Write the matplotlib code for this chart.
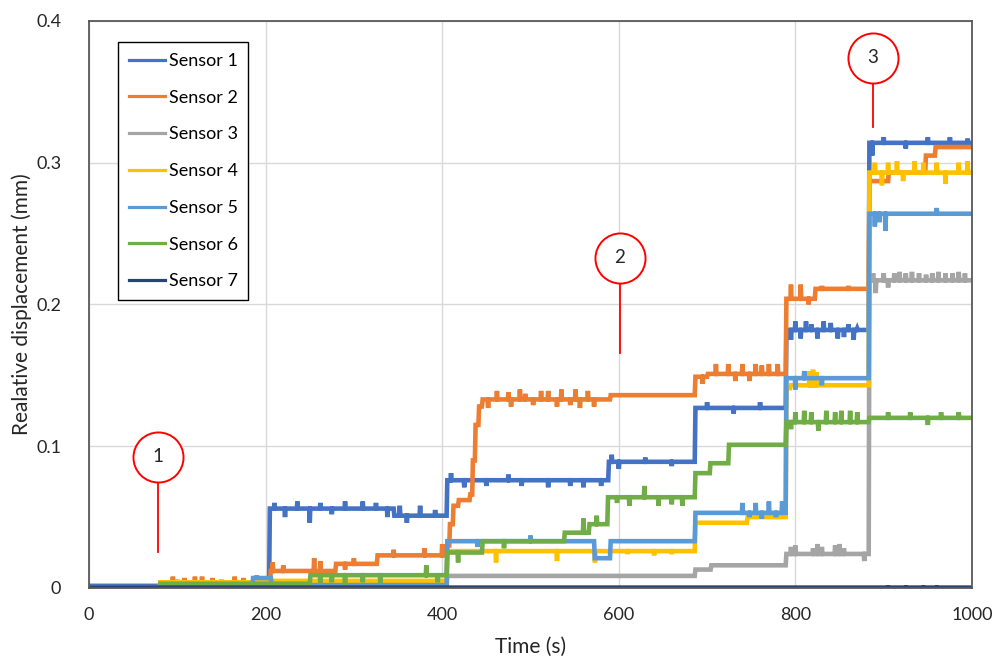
import matplotlib.pyplot as plt

plt.rcParams['font.family'] = ['Lato', 'DejaVu Sans']

labels = ['Sensor 1', 'Sensor 2', 'Sensor 3', 'Sensor 4', 'Sensor 5', 'Sensor 6', 'Sensor 7']
colors = ['#4472C4', '#ED7D31', '#A5A5A5', '#FFC000', '#5B9BD5', '#70AD47', '#264478']

# level changes (time s, displacement mm)
s1_steps = [(0, 0.0015), (204, 0.056), (345, 0.051), (405, 0.076), (588, 0.089), (686, 0.127),
            (789, 0.182), (883, 0.314)]
s1_spikes = [(210, 0.060), (222, 0.050), (236, 0.061), (250, 0.046), (262, 0.060), (275, 0.052),
             (290, 0.061), (310, 0.061), (325, 0.060), (338, 0.050), (352, 0.058), (360, 0.046),
             (375, 0.058), (392, 0.055), (410, 0.081), (425, 0.071), (450, 0.072), (475, 0.080),
             (490, 0.072), (520, 0.071), (545, 0.072), (560, 0.071), (580, 0.072), (592, 0.094),
             (600, 0.084), (630, 0.092), (660, 0.086), (700, 0.131), (730, 0.123), (760, 0.131),
             (795, 0.175), (800, 0.188), (806, 0.176), (812, 0.188), (818, 0.186), (825, 0.176),
             (832, 0.188), (840, 0.187), (848, 0.176), (855, 0.177), (860, 0.186), (866, 0.175),
             (870, 0.183), (887, 0.305), (900, 0.318), (925, 0.310), (950, 0.318), (975, 0.318),
             (995, 0.317)]

s2_steps = [(0, 0.0005), (80, 0.004), (205, 0.012), (279, 0.017), (326, 0.023), (405, 0.030),
            (408, 0.045), (412, 0.058), (418, 0.062), (431, 0.066), (434, 0.090), (437, 0.115),
            (441, 0.128), (445, 0.133), (590, 0.136), (686, 0.149), (700, 0.151), (789, 0.204),
            (822, 0.211), (883, 0.287), (905, 0.293), (947, 0.305), (958, 0.311)]
s2_spikes = [(95, 0.008), (108, 0.007), (120, 0.008), (128, 0.008), (140, 0.007), (165, 0.008),
             (175, 0.007), (190, 0.009), (208, 0.018), (220, 0.016), (255, 0.021), (262, 0.019),
             (290, 0.013), (300, 0.021), (345, 0.027), (380, 0.028), (400, 0.031), (452, 0.127),
             (462, 0.139), (475, 0.138), (478, 0.128), (488, 0.140), (494, 0.137), (503, 0.129),
             (512, 0.139), (520, 0.139), (530, 0.128), (535, 0.140), (545, 0.129), (551, 0.140),
             (556, 0.127), (565, 0.139), (572, 0.128), (695, 0.144), (710, 0.158), (724, 0.158),
             (732, 0.146), (740, 0.158), (748, 0.146), (755, 0.158), (762, 0.157), (770, 0.158),
             (780, 0.158), (795, 0.214), (806, 0.214), (815, 0.200), (830, 0.213), (860, 0.213)]

s3_steps = [(0, 0.0005), (405, 0.0085), (686, 0.013), (704, 0.016), (789, 0.024), (883, 0.217)]
s3_spikes = [(795, 0.029), (800, 0.030), (820, 0.028), (825, 0.031), (830, 0.029), (845, 0.030),
             (850, 0.031), (855, 0.028), (878, 0.019), (888, 0.222), (891, 0.208), (900, 0.222),
             (905, 0.212), (912, 0.222), (918, 0.223), (925, 0.222), (932, 0.223), (940, 0.222),
             (948, 0.221), (955, 0.222), (962, 0.223), (970, 0.222), (978, 0.222), (985, 0.223),
             (992, 0.222)]

s4_steps = [(0, 0.0), (80, 0.004), (205, 0.005), (405, 0.026), (686, 0.046), (745, 0.050),
            (789, 0.141), (794, 0.143), (883, 0.293)]
s4_spikes = [(100, 0.006), (150, 0.006), (461, 0.018), (530, 0.019), (573, 0.018), (610, 0.024),
             (640, 0.023), (660, 0.024), (816, 0.153), (820, 0.154), (824, 0.152), (890, 0.300),
             (898, 0.284), (905, 0.300), (915, 0.301), (922, 0.287), (935, 0.301), (945, 0.300),
             (960, 0.300), (970, 0.285), (985, 0.300), (995, 0.301)]

s5_steps = [(0, 0.0), (185, 0.007), (206, 0.002), (405, 0.033), (572, 0.021), (590, 0.033),
            (686, 0.053), (789, 0.148), (883, 0.264)]
s5_spikes = [(440, 0.029), (500, 0.037), (740, 0.060), (748, 0.050), (755, 0.060), (762, 0.049),
             (770, 0.061), (778, 0.050), (785, 0.061), (800, 0.140), (810, 0.153), (830, 0.143),
             (890, 0.255), (895, 0.258), (902, 0.252), (960, 0.268)]

s6_steps = [(0, 0.0), (80, 0.003), (250, 0.009), (405, 0.025), (445, 0.033), (538, 0.039),
            (566, 0.045), (587, 0.064), (686, 0.081), (703, 0.088), (724, 0.101), (789, 0.117),
            (883, 0.120)]
s6_spikes = [(262, 0.003), (275, 0.004), (290, 0.002), (310, 0.004), (330, 0.003), (382, 0.016),
             (395, 0.004), (418, 0.018), (470, 0.028), (560, 0.049), (575, 0.051), (598, 0.060),
             (612, 0.058), (629, 0.072), (645, 0.058), (660, 0.059), (672, 0.058), (795, 0.112),
             (800, 0.124), (810, 0.125), (818, 0.124), (826, 0.111), (835, 0.125), (845, 0.124),
             (852, 0.125), (862, 0.125), (870, 0.124), (905, 0.124), (930, 0.124), (950, 0.115),
             (965, 0.124), (985, 0.124)]

s7_steps = [(0, 0.0)]
s7_spikes = [(905, -0.002), (925, -0.002), (945, -0.002), (960, -0.002)]

steps = [s1_steps, s2_steps, s3_steps, s4_steps, s5_steps, s6_steps, s7_steps]
spikes = [s1_spikes, s2_spikes, s3_spikes, s4_spikes, s5_spikes, s6_spikes, s7_spikes]

# numbered markers: (time, circle height, line bottom)
marks = ['1', '2', '3']
mark_t = [78, 601, 888]
mark_y = [0.0924, 0.2328, 0.374]
mark_bottom = [0.0254, 0.1658, 0.325]

x_ticks = [0, 200, 400, 600, 800, 1000]
y_ticks = [0, 0.1, 0.2, 0.3, 0.4]
y_tick_labels = ['0', '0.1', '0.2', '0.3', '0.4']


def level_at(st, t):
    lv = st[0][1]
    for ts, v in st:
        if ts <= t:
            lv = v
    return lv


def build(st, sp):
    pts = []
    for i, (ts, v) in enumerate(st):
        if i > 0:
            pts.append((ts, st[i - 1][1]))
            pts.append((ts + 0.8, v))
        else:
            pts.append((ts, v))
    for ts, v in sp:
        base = level_at(st, ts)
        pts.append((ts - 0.6, base))
        pts.append((ts, v))
        pts.append((ts + 0.6, base))
    pts.append((1000, st[-1][1]))
    pts.sort(key=lambda p: p[0])
    return [p[0] for p in pts], [p[1] for p in pts]


fig = plt.figure(figsize=(10, 6.64), dpi=100)
ax = fig.add_axes([0.089, 0.1145, 0.883, 0.854])

for i in range(len(labels)):
    t, v = build(steps[i], spikes[i])
    lw = 3.8 if i == 6 else 3.3
    ax.plot(t, v, color=colors[i], lw=lw, label=labels[i], solid_joinstyle='miter')

for i in range(len(marks)):
    ax.plot([mark_t[i], mark_t[i]], [mark_bottom[i], mark_y[i]], color='#FF0000', lw=1.3, zorder=10)
    ax.scatter([mark_t[i]], [mark_y[i]], s=1300, facecolor='white', edgecolor='#FF0000',
               linewidth=1.4, zorder=11)
    ax.text(mark_t[i], mark_y[i], marks[i], ha='center', va='center', fontsize=13.5,
            color='#262626', zorder=12)

ax.set_xlim(0, 1000)
ax.set_ylim(0, 0.4)
ax.set_xticks(x_ticks)
ax.set_yticks(y_ticks)
ax.set_yticklabels(y_tick_labels)
ax.grid(True, color='#D9D9D9', lw=1)
ax.set_axisbelow(True)
ax.tick_params(length=0, labelsize=13, colors='#262626')
ax.tick_params(axis='y', pad=20)
ax.tick_params(axis='x', pad=14)
for s in ax.spines.values():
    s.set_color('#595959')
    s.set_linewidth(1.3)

ax.set_xlabel('Time (s)', fontsize=15, color='#262626', labelpad=10)
ax.set_ylabel('Realative displacement (mm)', fontsize=15, color='#262626', labelpad=3)

leg = ax.legend(loc='upper left', bbox_to_anchor=(0.118, 1 - 42 / 664), bbox_transform=fig.transFigure,
                borderaxespad=0, fontsize=13, frameon=True, fancybox=False, framealpha=1,
                edgecolor='black', handlelength=2.0, handletextpad=0.2, labelspacing=1.15,
                borderpad=0.6)
leg.get_frame().set_linewidth(1.0)
for l in leg.get_lines():
    l.set_linewidth(2.3)

fig.savefig('out.png', dpi=100)
